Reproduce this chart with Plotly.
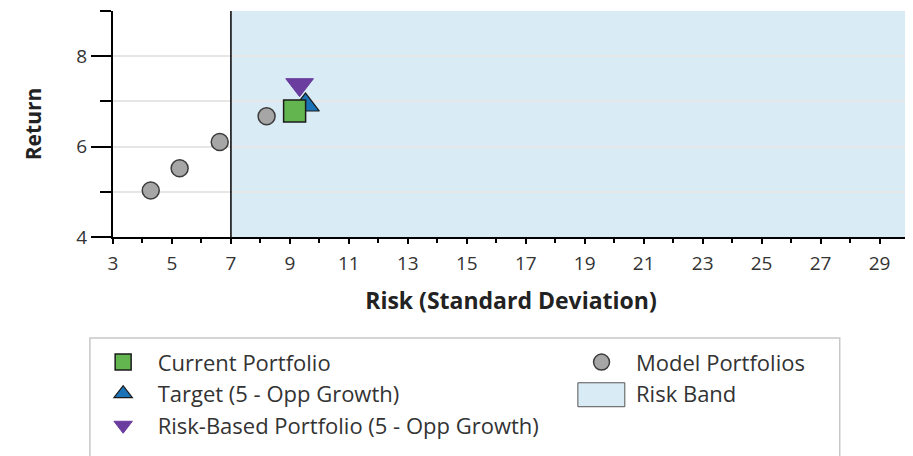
import plotly.graph_objects as go

# data
model_risk = [4.28, 5.26, 6.62, 8.21]
model_return = [5.03, 5.52, 6.10, 6.67]
current_risk = [9.16]
current_return = [6.79]
target_risk = [9.53]
target_return = [6.92]
riskbased_risk = [9.33]
riskbased_return = [7.37]
band_low, band_high = 7, 30
x_range = [3, 30]
y_range = [4, 9]

FONT = "Open Sans"
TXT = "#333333"
BAND = "#d9ebf5"

fig = go.Figure()

# model portfolios (grey circles)
fig.add_trace(go.Scatter(
    x=model_risk, y=model_return, mode="markers", name="Model Portfolios",
    marker=dict(symbol="circle", size=17, color="#a6a6a6",
                line=dict(color="#3c3c3c", width=1.5)),
    legend="legend2", legendgroup="m",
))
# risk band legend entry - swatch is drawn as a shape further down
fig.add_trace(go.Scatter(
    x=[None], y=[None], mode="markers", name="Risk Band",
    marker=dict(color="rgba(0,0,0,0)", size=1),
    legend="legend2", legendgroup="b",
))
fig.add_trace(go.Scatter(
    x=target_risk, y=target_return, mode="markers", name="Target (5 - Opp Growth)",
    marker=dict(symbol="triangle-up", size=24, color="#1a73b6",
                line=dict(color="#1b1b1b", width=1.2)),
    legendrank=2, legendgroup="t",
))
fig.add_trace(go.Scatter(
    x=riskbased_risk, y=riskbased_return, mode="markers",
    name="Risk-Based Portfolio (5 - Opp Growth)",
    marker=dict(symbol="triangle-down", size=24, color="#6a3d9e",
                line=dict(color="#6a3d9e", width=1)),
    legendrank=3, legendgroup="r",
))
fig.add_trace(go.Scatter(
    x=current_risk, y=current_return, mode="markers", name="Current Portfolio",
    marker=dict(symbol="square", size=22, color="#63b54f",
                line=dict(color="#1b1b1b", width=1.5)),
    legendrank=1, legendgroup="c",
))

# risk band + its side borders
fig.add_shape(type="rect", xref="x", yref="paper", x0=band_low, x1=band_high,
              y0=0, y1=1, fillcolor=BAND, line_width=0, layer="below")
for xv in (band_low, band_high):
    fig.add_shape(type="line", xref="x", yref="paper", x0=xv, x1=xv, y0=0, y1=1,
                  line=dict(color="black", width=1.5))

# legend frame and the risk band swatch
fig.add_shape(type="rect", xref="paper", yref="paper", x0=-0.029, x1=0.913,
              y0=-1.05, y1=-0.447, line=dict(color="#c8c8c8", width=1.5),
              fillcolor="rgba(0,0,0,0)")
fig.add_shape(type="rect", xref="paper", yref="paper", x0=0.584, x1=0.643,
              y0=-0.751, y1=-0.645, line=dict(color="#555555", width=1),
              fillcolor=BAND)

leg = dict(orientation="v", bgcolor="rgba(0,0,0,0)", borderwidth=0,
           font=dict(family=FONT, size=22, color=TXT), itemsizing="trace",
           itemwidth=59, tracegroupgap=0, xanchor="left", yanchor="top")

# page body has an 8px margin, so the figure is 8px smaller each way
fig.update_layout(
    width=905, height=448,
    margin=dict(l=105, r=4, t=3, b=219),
    plot_bgcolor="white", paper_bgcolor="white",
    font=dict(family=FONT, color=TXT),
    showlegend=True,
    legend=dict(leg, x=-0.0306, y=-0.4614),
    legend2=dict(leg, x=0.5704, y=-0.4614),
    xaxis=dict(
        range=x_range, tick0=3, dtick=2, showgrid=False, zeroline=False,
        showline=True, linecolor="black", linewidth=2,
        ticks="outside", ticklen=5, tickcolor="black", tickwidth=1.5,
        minor=dict(dtick=1, ticks="outside", ticklen=4, tickcolor="black", showgrid=False),
        tickfont=dict(family=FONT, size=19, color=TXT), ticklabelstandoff=3,
        title=dict(text="<b>Risk (Standard Deviation)</b>", standoff=18,
                   font=dict(family=FONT, size=23, color="#222222")),
    ),
    yaxis=dict(
        range=y_range, tick0=4, dtick=2, zeroline=False,
        showgrid=True, gridcolor="#e6e6e6", gridwidth=1.5,
        showline=True, linecolor="black", linewidth=2,
        ticks="outside", ticklen=20, tickcolor="black", tickwidth=1.5,
        minor=dict(dtick=1, ticks="outside", ticklen=11, tickcolor="black",
                   showgrid=True, gridcolor="#e6e6e6", gridwidth=1.5),
        tickfont=dict(family=FONT, size=19, color=TXT),
        title=dict(text="<b>Return</b>", standoff=29,
                   font=dict(family=FONT, size=21, color="#222222")),
    ),
)

fig.write_html("out.html")
